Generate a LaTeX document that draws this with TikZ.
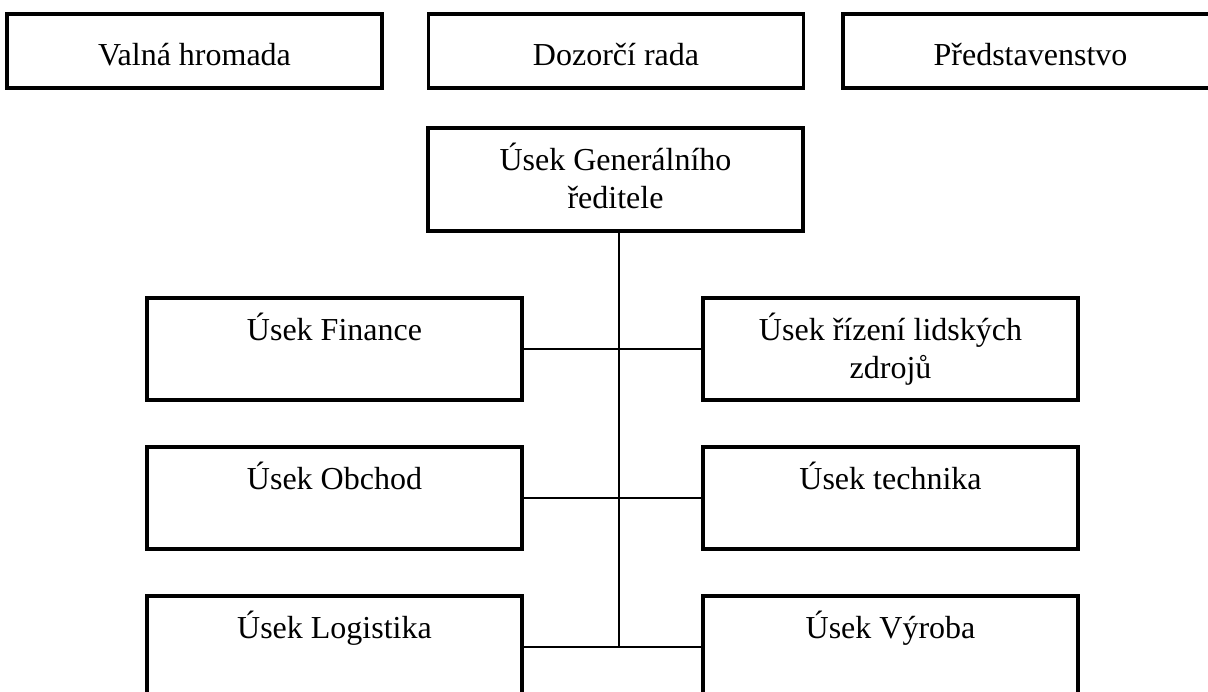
\documentclass[tikz,border=0pt]{standalone}
\usepackage{fontspec}
\setmainfont{Liberation Serif}
\usetikzlibrary{positioning}

\tikzset{
  box/.style={draw, line width=1.6pt, minimum width=187.5pt, inner xsep=0pt, inner ysep=0pt,
    align=center, font=\fontsize{16}{19}\selectfont},
  topbox/.style={box, text height=25.5pt, text depth=11.5pt},
  unitbox/.style={box, text height=21pt, text depth=30pt},
  twobox/.style={box, text height=40pt, text depth=11pt}
}

\begin{document}
\begin{tikzpicture}[x=0.5pt,y=-0.5pt]
	% Okraje obrazku
	\useasboundingbox (0,0) rectangle (1208,691);
	\clip (0,0) rectangle (1208,691);
	
	% Horni organy spolecnosti
	\node[topbox] (vh) at (194.5,51) {Valná hromada};
	\node[topbox] (dr) at (616,51) {Dozorčí rada};
	\node[topbox] (pr) at (1030.5,51) {Představenstvo};
	
	% Generalni reditel
	\node[twobox, text depth=11.5pt] (gr) at (615.5,179.5) {Úsek Generálního\\ředitele};
	
	% Useky vlevo
	\node[unitbox] (fin) at (334.5,349) {Úsek Finance};
	\node[unitbox] (obch) at (334.5,498) {Úsek Obchod};
	\node[unitbox] (log) at (334.5,647) {Úsek Logistika};
	
	% Useky vpravo
	\node[twobox] (lz) at (890.5,349) {Úsek řízení lidských\\zdrojů};
	\node[unitbox] (tech) at (890.5,498) {Úsek technika};
	\node[unitbox] (vyr) at (890.5,647) {Úsek Výroba};
	
	% Spojovaci cary
	\coordinate (osa) at ([xshift=1.75pt]gr.south |- log.east);
	\draw[line width=0.65pt] ([xshift=1.75pt]gr.south) -- (osa);
	\draw[line width=0.65pt] (fin.east) -- (lz.west);
	\draw[line width=0.65pt] (obch.east) -- (tech.west);
	\draw[line width=0.65pt] (log.east) -- (vyr.west);
	
\end{tikzpicture}
\end{document}
